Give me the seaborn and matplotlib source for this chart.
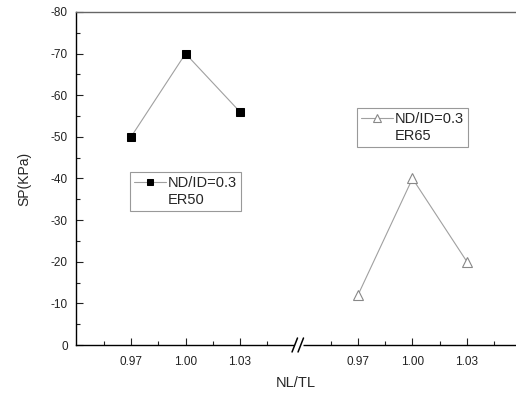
import matplotlib
matplotlib.use('Agg')
import matplotlib.pyplot as plt
from matplotlib.lines import Line2D
import seaborn as sns

# NL/TL ratios and SP values (KPa)
nl_tl = [0.97, 1.00, 1.03]
sp_er50 = [-50, -70, -56]
sp_er65 = [-12, -40, -20]
tick_labels = ['0.97', '1.00', '1.03']
series_names = ['ER50', 'ER65']

step = 0.015      # spacing between ticks in NL/TL units
right_offset = 8.33  # where the second group starts on the broken axis

sns.set_style('ticks')
plt.rcParams['font.family'] = ['Liberation Sans', 'DejaVu Sans']
plt.rcParams['axes.unicode_minus'] = False

fig = plt.figure(figsize=(5.16, 3.93), dpi=100)
ax = fig.add_axes([76 / 516, 1 - 345 / 393, 1 - 76 / 516, 333 / 393])

left_pos = [(v - nl_tl[0]) / step for v in nl_tl]
right_pos = [p + right_offset for p in left_pos]

sns.lineplot(x=left_pos, y=sp_er50, ax=ax, color='#a0a0a0', lw=0.8,
             marker='s', markersize=6, markerfacecolor='black',
             markeredgecolor='black', label='ND/ID=0.3')
sns.lineplot(x=right_pos, y=sp_er65, ax=ax, color='#a0a0a0', lw=0.8,
             marker='^', markersize=7, markerfacecolor='white',
             markeredgecolor='#888888', markeredgewidth=0.8,
             label='ND/ID=0.3')

ax.set_xlim(-2.02, 14.13)
ax.set_ylim(0, -80)

major = left_pos + right_pos
minor = [-1, 1, 3, 5] + [p + right_offset for p in [-1, 1, 3, 5]]
ax.set_xticks(major)
ax.set_xticklabels(tick_labels * 2)
ax.set_xticks(minor, minor=True)
ax.set_yticks(range(0, -90, -10))
ax.set_yticks(range(-5, -80, -10), minor=True)
ax.tick_params(which='both', direction='in', labelsize=8.5, colors='#222222')
ax.tick_params(which='major', length=5, width=0.8, pad=6)
ax.tick_params(which='minor', length=3, width=0.8)
ax.tick_params(axis='x', pad=8)

for s in ['left', 'bottom']:
    ax.spines[s].set_color('black')
    ax.spines[s].set_linewidth(1.0)
ax.spines['top'].set_color('#666666')
ax.spines['top'].set_linewidth(1.0)
ax.spines['right'].set_visible(False)

ax.set_xlabel('NL/TL', fontsize=10.5, labelpad=6)
ax.set_ylabel('SP(KPa)', fontsize=10, labelpad=14)

# break mark on the x axis: gap in the spine plus two slashes
tr = ax.get_xaxis_transform()
ax.plot([5.97, 6.3], [0, 0], transform=tr, color='white', lw=2.5,
        clip_on=False, solid_capstyle='butt', zorder=5)
for x0 in [5.91, 6.13]:
    ax.plot([x0, x0 + 0.2], [-0.021, 0.021], transform=tr, color='black',
            lw=1.1, clip_on=False, zorder=6)

ax.get_legend().remove()
handles, labels = ax.get_legend_handles_labels()
boxes = [(130, 172), (357, 108)]
for h, l, name, (bx, by) in zip(handles, labels, series_names, boxes):
    blank = Line2D([], [], linestyle='none', marker=None)
    leg = fig.legend([h, blank], [l, name], loc='upper left',
                     bbox_to_anchor=(bx / 516, 1 - by / 393),
                     fontsize=10.5, frameon=True, fancybox=False,
                     edgecolor='#999999', framealpha=1, borderpad=0.3,
                     labelspacing=0.15, markerscale=0.8,
                     handlelength=2.2, handletextpad=0.1, borderaxespad=0)
    leg.get_frame().set_linewidth(0.8)

fig.savefig('out.png', dpi=100)
